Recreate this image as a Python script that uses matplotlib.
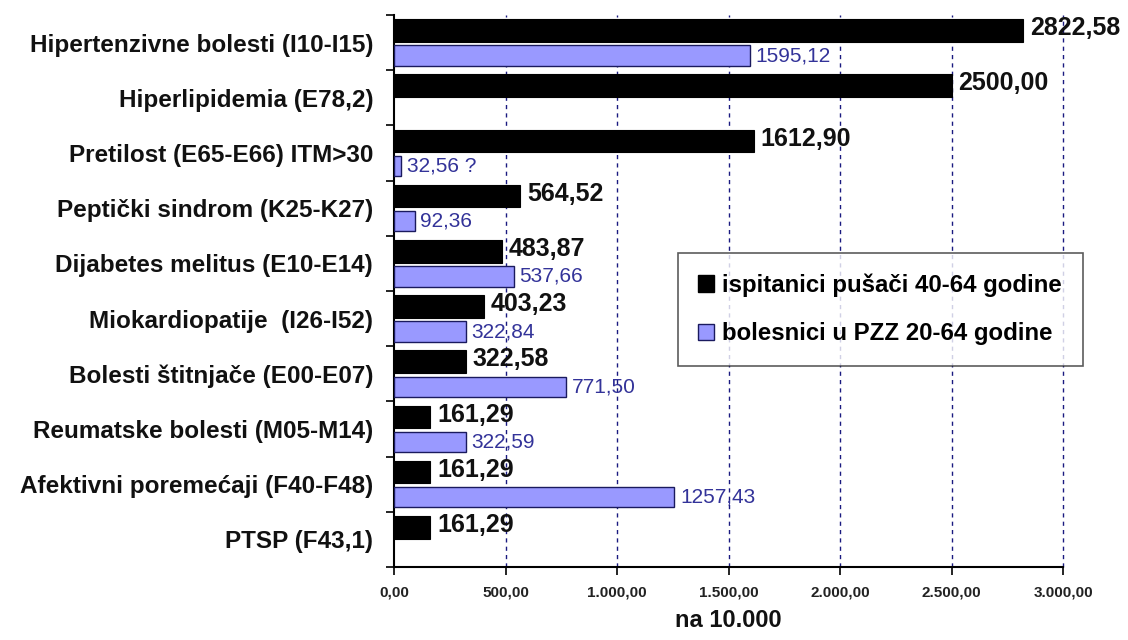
import numpy as np
import matplotlib
matplotlib.use("Agg")
import matplotlib.pyplot as plt
from matplotlib.ticker import FuncFormatter, FixedLocator
from matplotlib.patches import Patch

plt.rcParams['font.family'] = ['Liberation Sans', 'DejaVu Sans']

categories = [
    "Hipertenzivne bolesti (I10-I15)",
    "Hiperlipidemia (E78,2)",
    "Pretilost (E65-E66) ITM>30",
    "Peptički sindrom (K25-K27)",
    "Dijabetes melitus (E10-E14)",
    "Miokardiopatije  (I26-I52)",
    "Bolesti štitnjače (E00-E07)",
    "Reumatske bolesti (M05-M14)",
    "Afektivni poremećaji (F40-F48)",
    "PTSP (F43,1)",
]
smokers = [2822.58, 2500.00, 1612.90, 564.52, 483.87, 403.23, 322.58, 161.29, 161.29, 161.29]
patients = [1595.12, np.nan, 32.56, 92.36, 537.66, 322.84, 771.50, 322.59, 1257.43, np.nan]
patient_notes = ["", "", " ?", "", "", "", "", "", "", ""]
series_names = ["ispitanici pušači 40-64 godine", "bolesnici u PZZ 20-64 godine"]
x_ticks = [0, 500, 1000, 1500, 2000, 2500, 3000]
x_label = "na 10.000"

BLACK = "#000000"
BLUE = "#9999FF"
BLUE_EDGE = "#1a1a5e"
BLUE_TEXT = "#333399"
GRID = "#1a1a80"


def fmt_num(v):
    s = f"{v:,.2f}"
    return s.replace(",", "X").replace(".", ",").replace("X", ".")


def fmt_label(v):
    return f"{v:.2f}".replace(".", ",")


fig = plt.figure(figsize=(11.28, 6.4), dpi=100)
ax = fig.add_axes([394 / 1128, 1 - 567 / 640, (1063 - 394) / 1128, (567 - 15) / 640])

n = len(categories)
y = np.arange(n)
h = 0.41
off_b = -0.22
off_p = 0.235

ax.barh(y + off_b, smokers, height=h, color=BLACK, edgecolor=BLACK, linewidth=0.8, zorder=3)
pv = np.array(patients, dtype=float)
mask = ~np.isnan(pv)
ax.barh(y[mask] + off_p, pv[mask], height=h - 0.04, color=BLUE, edgecolor=BLUE_EDGE,
        linewidth=1.0, zorder=3)

for i, v in enumerate(smokers):
    ax.annotate(fmt_label(v), xy=(v, y[i] + off_b - 0.04), xytext=(5, 0), textcoords="offset points",
                ha="left", va="center", fontsize=18, fontweight="bold", color="#111111", zorder=4)
for i, v in enumerate(patients):
    if np.isnan(v):
        continue
    ax.annotate(fmt_label(v) + patient_notes[i], xy=(v, y[i] + off_p), xytext=(4, 0),
                textcoords="offset points", ha="left", va="center", fontsize=15,
                color=BLUE_TEXT, zorder=4)

ax.set_xlim(0, 3000)
ax.set_ylim(n - 0.5, -0.5)
ax.xaxis.set_major_locator(FixedLocator(x_ticks))
ax.xaxis.set_major_formatter(FuncFormatter(lambda v, p: fmt_num(v)))
for t in x_ticks[1:]:
    ax.axvline(t, color=GRID, linestyle=(0, (3, 3)), linewidth=1.0, zorder=1, clip_on=False)

ax.set_yticks(y)
ax.set_yticklabels(categories, fontsize=17.5, fontweight="bold", color="#111111")
ax.set_yticks(np.arange(n + 1) - 0.5, minor=True)
ax.tick_params(axis="y", which="major", length=0, pad=15)
ax.tick_params(axis="y", which="minor", length=6, width=1.2, direction="out")
ax.tick_params(axis="x", which="major", length=6, width=1.2, direction="out", labelsize=11, pad=7)
for lab in ax.get_xticklabels():
    lab.set_fontweight("bold")
    lab.set_color("#222222")

ax.set_xlabel(x_label, fontsize=17, fontweight="bold", labelpad=7, color="#111111")

for s in ["top", "right"]:
    ax.spines[s].set_visible(False)
ax.spines["left"].set_linewidth(1.5)
ax.spines["bottom"].set_linewidth(1.5)

handles = [Patch(facecolor=BLACK, edgecolor=BLACK), Patch(facecolor=BLUE, edgecolor=BLUE_EDGE)]
leg = ax.legend(handles, series_names, loc="upper left",
                bbox_to_anchor=((678 - 394) / (1063 - 394), 1 - (253 - 15) / 552),
                prop={"size": 17.3, "weight": "bold"}, frameon=True, fancybox=False,
                handlelength=0.65, handleheight=0.65, handletextpad=0.35, labelspacing=1.05,
                borderpad=0.85, edgecolor="#333333", borderaxespad=0)
leg.get_frame().set_linewidth(1.2)
leg.set_zorder(5)

fig.savefig("out.png", dpi=100, facecolor="white")
